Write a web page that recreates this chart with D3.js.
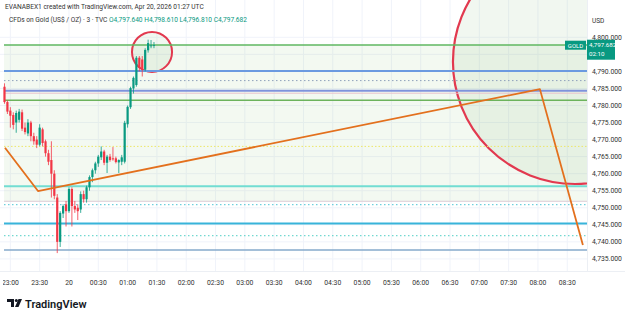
<!DOCTYPE html>
<html>
<head>
<meta charset="utf-8">
<script src="https://cdn.jsdelivr.net/npm/d3@7"></script>
<style>
  body { margin: 0; background: #fff; }
  svg { display: block; font-family: Roboto, "Liberation Sans", sans-serif; }
</style>
</head>
<body>
<div id="chart"></div>
<script>
var w = 625, h = 319;

// candle times in minutes from 00:00 Apr 20 (3 min bars)
var times = [-66,-63,-60,-57,-54,-51,-48,-45,-42,-39,-36,-33,-30,-27,-24,-21,-18,-15,-12,-9,-6,-3,
  0,3,6,9,12,15,18,21,24,27,30,33,36,39,42,45,48,51,54,57,60,63,66,69,72,75,78,81,84,87];
var opens  = [4785.5,4781.0,4778.5,4777.2,4775.0,4775.8,4778.0,4773.5,4771.8,4775.0,4771.0,4770.0,4768.5,4773.0,4769.5,4766.0,4764.0,4760.0,4753.0,4740.0,4748.3,4751.0,
  4749.0,4755.5,4750.5,4750.0,4749.5,4754.0,4752.5,4756.0,4759.0,4761.0,4763.0,4764.8,4766.5,4763.2,4765.0,4764.5,4764.5,4763.3,4763.5,4763.5,4774.5,4779.5,4785.0,4786.0,4794.0,4793.5,4790.5,4796.2,4797.4,4797.640];
var highs  = [4786.5,4781.5,4779.5,4778.0,4778.5,4779.0,4778.8,4775.0,4776.0,4775.5,4772.0,4771.0,4774.5,4773.5,4770.0,4767.0,4769.5,4761.0,4754.0,4749.0,4751.0,4752.0,
  4756.0,4756.0,4752.0,4751.0,4754.8,4755.0,4756.5,4759.5,4761.5,4763.5,4765.5,4768.0,4767.0,4765.5,4765.8,4767.8,4765.0,4764.2,4765.5,4775.5,4780.0,4785.5,4788.5,4794.5,4794.5,4794.5,4796.8,4799.3,4799.2,4798.610];
var lows   = [4780.5,4777.5,4773.5,4773.0,4772.0,4775.0,4772.5,4771.5,4771.0,4769.5,4768.5,4767.5,4768.0,4768.0,4765.0,4762.5,4753.0,4752.5,4736.7,4738.5,4747.0,4744.5,
  4748.5,4744.5,4748.5,4746.4,4748.5,4751.5,4751.5,4755.0,4757.5,4760.0,4762.0,4764.0,4762.5,4760.2,4763.5,4763.8,4763.0,4760.2,4762.5,4763.0,4773.5,4779.0,4783.5,4785.5,4790.0,4788.5,4790.0,4795.5,4796.8,4796.810];
var closes = [4781.0,4778.2,4777.0,4774.3,4777.8,4778.2,4773.2,4772.2,4775.0,4771.0,4769.5,4768.5,4773.5,4769.0,4766.0,4763.5,4760.0,4753.5,4740.0,4748.5,4750.5,4749.0,
  4755.5,4750.5,4749.5,4749.0,4754.0,4752.5,4756.0,4759.0,4761.0,4763.0,4765.0,4766.5,4763.2,4765.0,4764.0,4764.2,4763.4,4764.0,4764.8,4774.9,4779.6,4785.1,4788.1,4794.0,4791.0,4790.5,4796.3,4798.3,4797.6,4797.682];

var priceTicks = [4735,4740,4745,4750,4755,4760,4765,4770,4775,4780,4785,4790,4800];
var timeTicks = [-60,-30,0,30,60,90,120,150,180,210,240,270,300,330,360,390,420,450,480,510];
var timeLabels = ["23:00","23:30","20","00:30","01:00","01:30","02:00","02:30","03:00","03:30","04:00",
  "04:30","05:00","05:30","06:00","06:30","07:00","07:30","08:00","08:30"];

// drawn horizontal levels
var levelPrices = [4797.75,4790.1,4787.3,4784.3,4783.6,4781.5,4768.0,4756.3,4751.9,4750.9,4745.4,4741.8,4737.6];
var levelColors = ["#5fb760","#6b9ae0","#8fa0bb","#7f93dc","#e8c4cc","#6cb35c","#ece66a","#72ddd2","#dcccd6","#4cc4d4","#38b4da","#4fcfc4","#86aacb"];
var levelWidths = [1.5,2,1,2,1,1.5,1,2,1,1,2,1,1.5];
var levelDash   = ["","","1.5,2.5","","","","1.5,2","","","1.5,2.5","","1.5,2.5",""];

// orange trend path (time, price)
var pathTimes  = [-65.5,-31.7,482,526];
var pathPrices = [4767.6,4754.9,4784.8,4739.1];

// circles: center time, center price, edge time
var circleTimes  = [518,85];
var circlePrices = [4792.8,4795.7];
var circleEdges  = [393,64.5];

var svg, x, y;

function fmtPrice(p) {
  return d3.format(",.3f")(p);
}

function initScales() {
  x = d3.scaleLinear().domain([-66.5, 530]).range([4, 586.8]);
  y = d3.scaleLinear().domain([4735, 4800]).range([258.9, 37.3]);
}

function drawBackground() {
  var plot = svg.append("g").attr("clip-path", "url(#plotclip)");
  svg.append("clipPath").attr("id", "plotclip")
     .append("rect").attr("x", 0).attr("y", 0).attr("width", 587).attr("height", 271);

  // grid
  plot.selectAll(".vgrid").data(timeTicks).enter().append("line")
      .attr("x1", function(d){ return x(d); }).attr("x2", function(d){ return x(d); })
      .attr("y1", 0).attr("y2", 271)
      .attr("stroke", "#f0f3fa").attr("stroke-width", 1);
  plot.selectAll(".hgrid").data(d3.range(4735, 4805, 5)).enter().append("line")
      .attr("x1", 0).attr("x2", 587)
      .attr("y1", function(d){ return y(d); }).attr("y2", function(d){ return y(d); })
      .attr("stroke", "#f0f3fa").attr("stroke-width", 1);

  // shaded zone
  plot.append("rect")
      .attr("x", 4).attr("width", 583)
      .attr("y", y(levelPrices[0])).attr("height", y(levelPrices[8]) - y(levelPrices[0]))
      .attr("fill", "rgba(104,180,80,0.08)");

  // circles
  for (var i in circleTimes) {
    var cx = x(circleTimes[i]), cy = y(circlePrices[i]);
    var r = cx - x(circleEdges[i]);
    plot.append("circle").attr("cx", cx).attr("cy", cy).attr("r", r)
        .attr("fill", "rgba(120,180,110,0.10)")
        .attr("stroke", "#e2394f").attr("stroke-width", i == 0 ? 2.2 : 2);
  }

  // levels
  for (var i in levelPrices) {
    plot.append("line")
        .attr("x1", 4).attr("x2", 587)
        .attr("y1", y(levelPrices[i])).attr("y2", y(levelPrices[i]))
        .attr("stroke", levelColors[i])
        .attr("stroke-width", levelWidths[i])
        .attr("stroke-dasharray", levelDash[i] || null);
  }

  // candles
  var candles = d3.range(times.length).map(function(i){
    return { t: times[i], o: opens[i], h: highs[i], l: lows[i], c: closes[i] };
  });
  var g = plot.selectAll(".candle").data(candles).enter().append("g");
  g.append("line")
   .attr("x1", function(d){ return x(d.t); }).attr("x2", function(d){ return x(d.t); })
   .attr("y1", function(d){ return y(d.h); }).attr("y2", function(d){ return y(d.l); })
   .attr("stroke", function(d){ return d.c >= d.o ? "#089981" : "#f23645"; })
   .attr("stroke-width", 0.8);
  g.append("rect")
   .attr("x", function(d){ return x(d.t) - 1.1; }).attr("width", 2.2)
   .attr("y", function(d){ return y(Math.max(d.o, d.c)); })
   .attr("height", function(d){ return Math.max(0.8, Math.abs(y(d.o) - y(d.c))); })
   .attr("fill", function(d){ return d.c >= d.o ? "#089981" : "#f23645"; });

  // orange path
  var pts = pathTimes.map(function(t, i){ return [x(t), y(pathPrices[i])]; });
  plot.append("path").attr("d", d3.line()(pts))
      .attr("fill", "none").attr("stroke", "#e3701d").attr("stroke-width", 1.8)
      .attr("stroke-linejoin", "round");
}

function drawAxes() {
  svg.append("line").attr("x1", 587.5).attr("x2", 587.5).attr("y1", 0).attr("y2", 271)
     .attr("stroke", "#eceff4");
  svg.append("line").attr("x1", 0).attr("x2", 625).attr("y1", 271.5).attr("y2", 271.5)
     .attr("stroke", "#eceff4");

  svg.append("text").attr("x", 592).attr("y", 23).text("USD")
     .attr("font-size", 6.5).attr("fill", "#333");

  svg.selectAll(".ptick").data(priceTicks).enter().append("text")
     .attr("x", 592).attr("y", function(d){ return y(d) + 2.4; })
     .attr("font-size", 6.8).attr("fill", "#333")
     .text(fmtPrice);

  var tg = svg.append("g");
  svg.append("clipPath").attr("id", "tclip")
     .append("rect").attr("x", 3).attr("y", 272).attr("width", 584).attr("height", 20);
  tg.attr("clip-path", "url(#tclip)");
  tg.selectAll(".ttick").data(timeTicks).enter().append("text")
    .attr("x", function(d){ return x(d); }).attr("y", 285)
    .attr("text-anchor", "middle").attr("font-size", 6.8).attr("fill", "#333")
    .text(function(d, i){ return timeLabels[i]; });

  // last price labels
  var last = closes[closes.length - 1];
  var ly = y(last);
  svg.append("rect").attr("x", 565).attr("y", ly - 4.5).attr("width", 21).attr("height", 9)
     .attr("fill", "#089981");
  svg.append("text").attr("x", 575.5).attr("y", ly + 2.3).attr("text-anchor", "middle")
     .attr("font-size", 6).attr("fill", "#fff").text("GOLD");
  svg.append("rect").attr("x", 587).attr("y", ly - 5.5).attr("width", 28).attr("height", 20)
     .attr("fill", "#089981");
  svg.append("text").attr("x", 589).attr("y", ly + 2.2)
     .attr("font-size", 6.2).attr("fill", "#fff").text(fmtPrice(last));
  svg.append("text").attr("x", 589).attr("y", ly + 11)
     .attr("font-size", 6.2).attr("fill", "#fff").text("02:10");
}

function drawHeader() {
  svg.append("text").attr("x", 5).attr("y", 9).attr("font-size", 6.6).attr("fill", "#333")
     .text("EVANABEX1 created with TradingView.com, Apr 20, 2026 01:27 UTC");
  var t = svg.append("text").attr("x", 9).attr("y", 22).attr("font-size", 6.6).attr("fill", "#333");
  t.append("tspan").text("CFDs on Gold (US$ / OZ) · 3 · TVC  ");
  var ohlc = [["O", opens], ["H", highs], ["L", lows], ["C", closes]];
  ohlc.forEach(function(p){
    var v = p[1][p[1].length - 1];
    t.append("tspan").attr("fill", "#089981").text(" " + p[0] + fmtPrice(v));
  });
}

function drawLogo() {
  var g = svg.append("g").attr("transform", "translate(7,299)");
  g.append("path").attr("d", "M0,0 H7 V8 H4 V3 H0 Z").attr("fill", "#131722");
  g.append("circle").attr("cx", 9.3).attr("cy", 1.5).attr("r", 1.5).attr("fill", "#131722");
  g.append("path").attr("d", "M11.5,0 H15 L11.5,8 H8 Z").attr("fill", "#131722");
  svg.append("text").attr("x", 25).attr("y", 308).attr("font-size", 11)
     .attr("font-weight", 600).attr("fill", "#131722").text("TradingView");
}

function init() {
  svg = d3.select("#chart").append("svg").attr("width", w).attr("height", h);
  initScales();
  drawBackground();
  drawAxes();
  drawHeader();
  drawLogo();
}

init();
</script>
</body>
</html>
